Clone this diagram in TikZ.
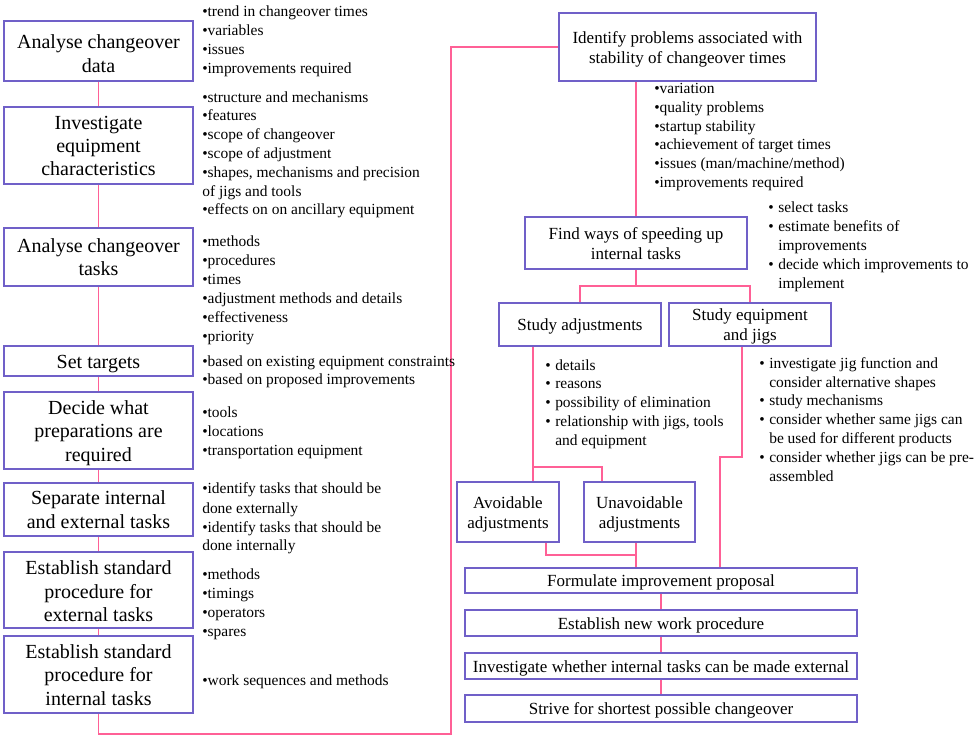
\documentclass[tikz,border=0pt]{standalone}
\usepackage{fontspec}
\setmainfont{Liberation Serif}
\definecolor{boxc}{RGB}{112,96,200}
\definecolor{linec}{RGB}{255,96,150}
\newcommand\tsh{1.75pt}
\tikzset{
  tshift/.code={\def\tsh{#1}},
  lbox/.style={draw=boxc, line width=1.2pt, inner sep=0pt, align=center, fill=white,
    font=\fontsize{15}{17.6}\selectfont},
  rbox/.style={draw=boxc, line width=1.2pt, inner sep=0pt, align=center, fill=white,
    font=\fontsize{12.75}{15}\selectfont},
  conn/.style={draw=linec, line width=1.1pt},
  bul/.style={anchor=base west, inner sep=0pt, font=\fontsize{11.6}{14}\selectfont}
}
\newcommand\bx[7][lbox]{%
  \node[#1, minimum width={(#5-#3)*0.75pt}, minimum height={(#6-#4)*0.75pt}] (#2) at ({(#3+#5)/2},{(#4+#6)/2})
  {\raisebox{-\tsh}[\height][\depth]{\begin{tabular}{@{}c@{}}#7\end{tabular}}};}
\newcommand\li[4]{\node[bul] (#1) at (#2,#3) {#4};}
\newcommand\rb{\makebox[7.5pt][l]{•}}
\begin{document}
\begin{tikzpicture}[x=0.75pt,y=-0.75pt]
\fill[white] (0,0) rectangle (977,739);
\useasboundingbox (0,0) rectangle (977,739);

\coordinate (lp1) at (451,734);
\coordinate (fb) at (636,286);
\coordinate (sa1) at (533,467);
\coordinate (sa2) at (602,467);
\coordinate (se1) at (742,457);
\coordinate (se2) at (720,457);
\coordinate (av1) at (546,555);
\coordinate (j1) at (636,555);

% left boxes
\bx[lbox,tshift=3.5pt]{L1}{4}{21}{193}{81}{Analyse changeover\\data}
\bx{L2}{4}{107}{193}{184}{Investigate\\equipment\\characteristics}
\bx{L3}{4}{228}{193}{286}{Analyse changeover\\tasks}
\bx{L4}{4}{346}{193}{376}{Set targets}
\bx{L5}{4}{392}{193}{469}{Decide what\\preparations are\\required}
\bx{L6}{4}{483}{193}{536}{Separate internal\\and external tasks}
\bx[lbox,tshift=2.5pt]{L7}{4}{552}{193}{628}{Establish standard\\procedure for\\external tasks}
\bx{L8}{4}{636}{193}{713}{Establish standard\\procedure for\\internal tasks}

% right boxes
\bx[rbox]{R1}{559}{13}{816}{81}{Identify problems associated with\\stability of changeover times}
\bx[rbox,tshift=2.2pt]{F}{525}{217}{747}{269}{Find ways of speeding up\\internal tasks}
\bx[rbox]{SA}{499}{303}{661}{346}{Study adjustments}
\bx[rbox]{SE}{669}{303}{831}{346}{Study equipment\\and jigs}
\bx[rbox]{AV}{457}{482}{559}{542}{Avoidable\\adjustments}
\bx[rbox]{UN}{584}{482}{695}{542}{Unavoidable\\adjustments}
\bx[rbox]{FP}{465}{568}{857}{593}{Formulate improvement proposal}
\bx[rbox]{EN}{465}{610}{857}{636}{Establish new work procedure}
\bx[rbox]{IW}{465}{653}{857}{679}{Investigate whether internal tasks can be made external}
\bx[rbox]{SS}{465}{695}{857}{722}{Strive for shortest possible changeover}

% connectors
\draw[conn] (L1.south) -- (L2.north);
\draw[conn] (L2.south) -- (L3.north);
\draw[conn] (L3.south) -- (L4.north);
\draw[conn] (L4.south) -- (L5.north);
\draw[conn] (L5.south) -- (L6.north);
\draw[conn] (L6.south) -- (L7.north);
\draw[conn] (L7.south) -- (L8.north);
\draw[conn] (L8.south) |- (lp1) |- (R1.west);
\draw[conn] (R1.south -| F.north) -- (F.north);
\draw[conn] (F.south) -- (fb);
\draw[conn] (SA.north) |- (fb) -| (SE.north);
\draw[conn] (SA.south -| sa1) -- (AV.north -| sa1);
\draw[conn] (sa1) -- (sa2) -- (UN.north -| sa2);
\draw[conn] (SE.south -| se1) -- (se1) -- (se2) -- (FP.north -| se2);
\draw[conn] (AV.south -| av1) -- (av1) -- (j1);
\draw[conn] (UN.south -| j1) -- (FP.north -| j1);
\draw[conn] (FP.south) -- (EN.north);
\draw[conn] (EN.south) -- (IW.north);
\draw[conn] (IW.south) -- (SS.north);

% left lists
\li{a1}{202}{16}{•trend in changeover times}
\li{a2}{202}{35}{•variables}
\li{a3}{202}{54}{•issues}
\li{a4}{202}{73}{•improvements required}
\li{b1}{202}{102}{•structure and mechanisms}
\li{b2}{202}{120}{•features}
\li{b3}{202}{139}{•scope of changeover}
\li{b4}{202}{158}{•scope of adjustment}
\li{b5}{202}{177}{•shapes, mechanisms and precision}
\li{b6}{202}{196}{of jigs and tools}
\li{b7}{202}{214}{•effects on on ancillary equipment}
\li{c1}{202}{246}{•methods}
\li{c2}{202}{265}{•procedures}
\li{c3}{202}{284}{•times}
\li{c4}{202}{303}{•adjustment methods and details}
\li{c5}{202}{322}{•effectiveness}
\li{c6}{202}{341}{•priority}
\li{d1}{202}{366}{•based on existing equipment constraints}
\li{d2}{202}{384}{•based on proposed improvements}
\li{e1}{202}{417}{•tools}
\li{e2}{202}{436}{•locations}
\li{e3}{202}{455}{•transportation equipment}
\li{f1}{202}{493}{•identify tasks that should be}
\li{f2}{202}{513}{done externally}
\li{f3}{202}{532}{•identify tasks that should be}
\li{f4}{202}{550}{done internally}
\li{g1}{202}{579}{•methods}
\li{g2}{202}{598}{•timings}
\li{g3}{202}{617}{•operators}
\li{g4}{202}{636}{•spares}
\li{h1}{202}{685}{•work sequences and methods}

% right lists
\li{p1}{654}{93}{•variation}
\li{p2}{654}{112}{•quality problems}
\li{p3}{654}{131}{•startup stability}
\li{p4}{654}{149}{•achievement of target times}
\li{p5}{654}{168}{•issues (man/machine/method)}
\li{p6}{654}{187}{•improvements required}
\li{q1}{768}{212}{\rb select tasks}
\li{q2}{768}{231}{\rb estimate benefits of}
\li{q3}{778}{250}{improvements}
\li{q4}{768}{269}{\rb decide which improvements to}
\li{q5}{778}{288}{implement}
\li{s1}{545}{370}{\rb details}
\li{s2}{545}{388}{\rb reasons}
\li{s3}{545}{407}{\rb possibility of elimination}
\li{s4}{545}{426}{\rb relationship with jigs, tools}
\li{s5}{555}{445}{and equipment}
\li{t1}{759}{368}{\rb investigate jig function and}
\li{t2}{769}{387}{consider alternative shapes}
\li{t3}{759}{405}{\rb study mechanisms}
\li{t4}{759}{424}{\rb consider whether same jigs can}
\li{t5}{769}{443}{be used for different products}
\li{t6}{759}{462}{\rb consider whether jigs can be pre-}
\li{t7}{769}{481}{assembled}
\end{tikzpicture}
\end{document}
